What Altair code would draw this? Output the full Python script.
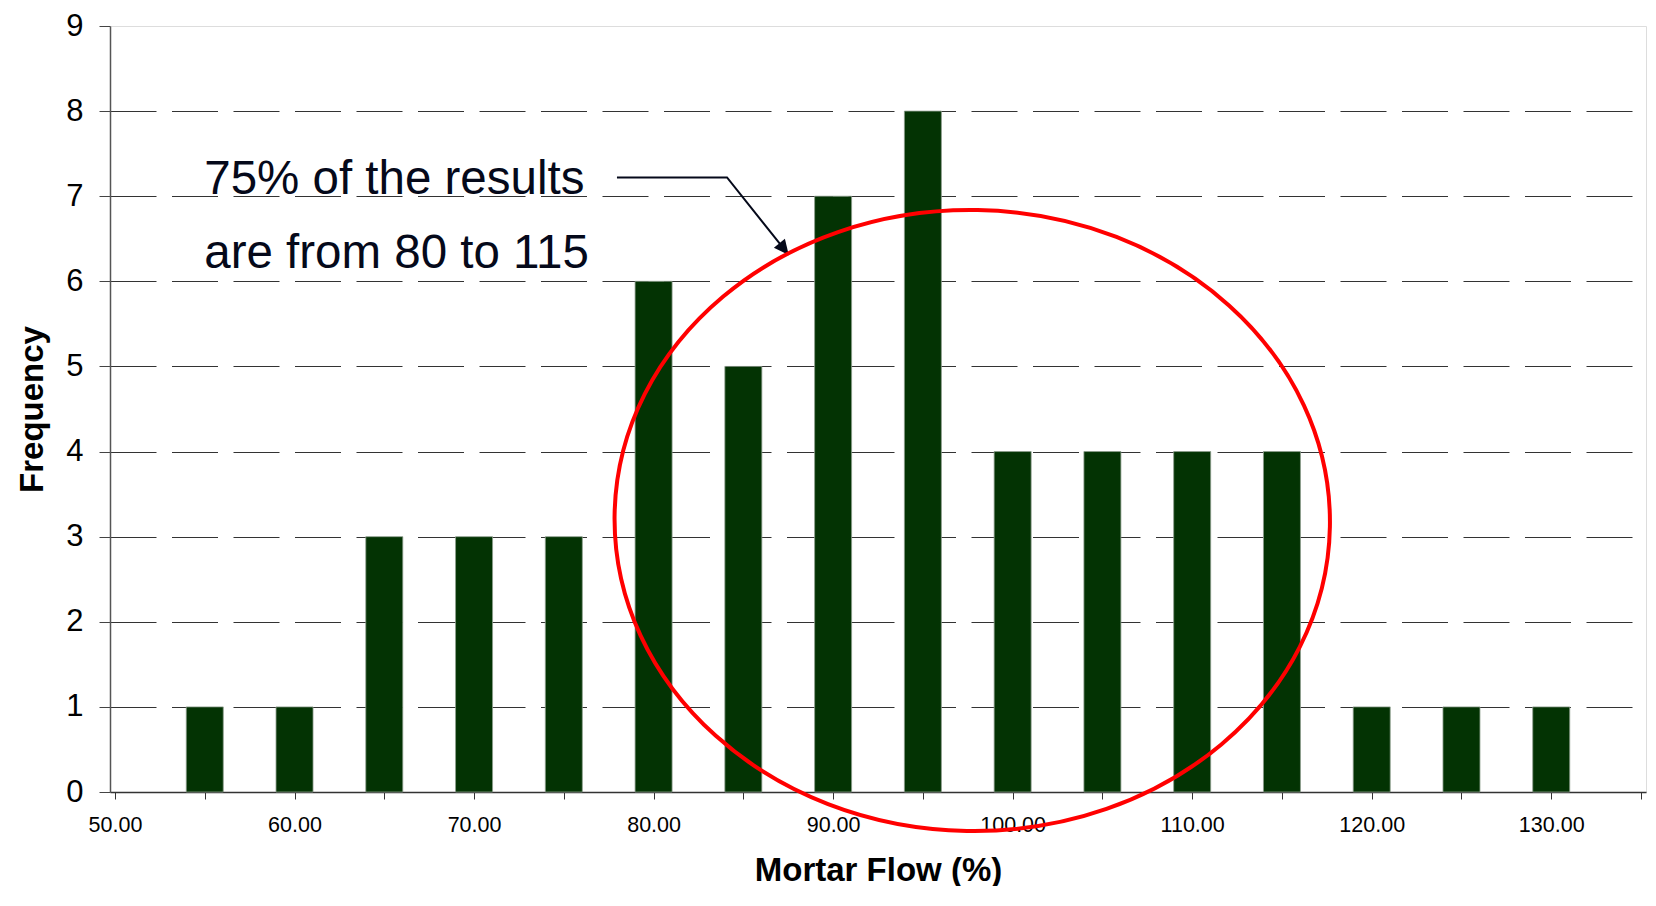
import altair as alt
import pandas as pd

# ---- data ----
flow_bins = [55, 60, 65, 70, 75, 80, 85, 90, 95, 100, 105, 110, 115, 120, 125, 130]
frequency = [1, 1, 3, 3, 3, 6, 5, 7, 8, 4, 4, 4, 4, 1, 1, 1]
x_ticks = list(range(50, 136, 5))
y_ticks = list(range(0, 10))

note_lines = ["75% of the results", "are from 80 to 115"]
note_x = [54.97, 54.97]
note_y = [7.03, 6.16]

arrow_x = [77.96, 84.09, 87.53]
arrow_y = [7.22, 7.22, 6.31]
arrow_order = [0, 1, 2]

ellipse_x = [97.75]
ellipse_y = [3.19]

# ---- tables ----
bars_df = pd.DataFrame({"flow": flow_bins, "freq": frequency})
notes_df = pd.DataFrame({"text": note_lines, "x": note_x, "y": note_y})
arrow_df = pd.DataFrame({"x": arrow_x, "y": arrow_y, "o": arrow_order})
tip_df = pd.DataFrame({"x": arrow_x[-1:], "y": arrow_y[-1:]})
ell_df = pd.DataFrame({"x": ellipse_x, "y": ellipse_y})

W, H = 1536, 766
FONT = "Liberation Sans"

x_scale = alt.Scale(domain=[50, 135], nice=False, zero=False)
y_scale = alt.Scale(domain=[0, 9], nice=False, zero=True)

x_axis = alt.Axis(
    values=x_ticks,
    labelExpr="datum.value % 10 === 0 ? format(datum.value, '.2f') : ''",
    labelFont=FONT, labelFontSize=21.5, labelColor="#000",
    labelFlush=False, labelOverlap=False, labelPadding=15,
    tickSize=7, tickColor="#333", tickWidth=1,
    domainColor="#333", domainWidth=1.5,
    grid=False,
    title="Mortar Flow (%)", titleFont=FONT, titleFontSize=33, titleFontWeight="bold",
    titleColor="#000", titleX=W / 2, titleY=88, titleBaseline="alphabetic", titleAlign="center",
)

y_axis = alt.Axis(
    values=y_ticks, format="d",
    labelFont=FONT, labelFontSize=31, labelColor="#000",
    labelFlush=False, labelOverlap=False, labelPadding=16,
    tickSize=11, tickColor="#444", tickWidth=1,
    domainColor="#555", domainWidth=1.5,
    grid=True, gridDash=[46, 15.5], gridWidth=1,
    gridColor={"condition": {"test": "datum.value === 0 || datum.value === 9", "value": "transparent"},
               "value": "#333"},
    title="Frequency", titleFont=FONT, titleFontSize=33, titleFontWeight="bold",
    titleColor="#000", titleAngle=270, titleX=-68, titleY=H / 2,
    titleBaseline="alphabetic", titleAlign="center",
)

bars = alt.Chart(bars_df).mark_bar(
    size=37, color="#033303", stroke="#8d9d8d", strokeWidth=0.8
).encode(
    x=alt.X("flow:Q", scale=x_scale, axis=x_axis),
    y=alt.Y("freq:Q", scale=y_scale, axis=y_axis),
)

notes = alt.Chart(notes_df).mark_text(
    align="left", baseline="alphabetic", font=FONT, fontSize=47.5, color="#05091a"
).encode(
    x=alt.X("x:Q", scale=x_scale), y=alt.Y("y:Q", scale=y_scale), text="text:N"
)

arrow = alt.Chart(arrow_df).mark_line(color="#05091a", strokeWidth=2).encode(
    x=alt.X("x:Q", scale=x_scale), y=alt.Y("y:Q", scale=y_scale), order="o:Q"
)

tip = alt.Chart(tip_df).mark_point(
    shape="M 0 0 L 0.47 1 L -0.47 1 Z", size=900, angle=141.3,
    filled=True, color="#05091a", opacity=1
).encode(x=alt.X("x:Q", scale=x_scale), y=alt.Y("y:Q", scale=y_scale))

k = 0.5523
r = 0.868
ell_path = (
    f"M -1 0 C -1 {-k*r:.4f} {-k:.4f} {-r} 0 {-r} "
    f"C {k:.4f} {-r} 1 {-k*r:.4f} 1 0 "
    f"C 1 {k*r:.4f} {k:.4f} {r} 0 {r} "
    f"C {-k:.4f} {r} -1 {k*r:.4f} -1 0 Z"
)
ellipse = alt.Chart(ell_df).mark_point(
    shape=ell_path, size=(2 * 357.7) ** 2, angle=1,
    filled=False, stroke="#ff0000", strokeWidth=4, opacity=1
).encode(x=alt.X("x:Q", scale=x_scale), y=alt.Y("y:Q", scale=y_scale))

chart = alt.layer(bars, notes, arrow, tip, ellipse).properties(
    width=W, height=H,
    autosize=alt.AutoSizeParams(type="none"),
    padding={"left": 102, "top": 18, "right": 2, "bottom": 94},
).configure_view(
    stroke="#9a9a9a", strokeWidth=1.3
).configure(font=FONT, background="white")

chart.save("out.html", embed_options={"renderer": "svg", "actions": False})
